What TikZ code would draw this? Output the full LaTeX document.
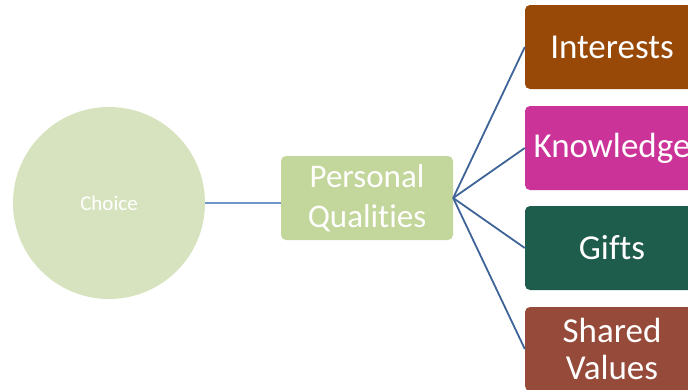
\documentclass[tikz,border=0pt]{standalone}
\usepackage{fontspec}
\setmainfont{Carlito}[Ligatures={NoCommon}]
\usepackage{tikz}
\usetikzlibrary{calc}
\definecolor{choicegreen}{RGB}{215,227,190}
\definecolor{qualgreen}{RGB}{195,214,155}
\definecolor{interestbrown}{RGB}{152,72,7}
\definecolor{knowpink}{RGB}{204,51,153}
\definecolor{giftgreen}{RGB}{30,92,76}
\definecolor{valuered}{RGB}{150,75,58}
\definecolor{linkblue}{RGB}{110,150,200}
\definecolor{branchblue}{RGB}{62,100,151}
\tikzset{
  box/.style={rounded corners=5pt, text=white, align=center, inner sep=0pt},
  leaf/.style={box, minimum width=174pt, minimum height=84pt, font=\fontsize{35}{37}\selectfont},
  branch/.style={branchblue, line width=1.8pt}
}

\begin{document}
\begin{tikzpicture}[x=1pt,y=-1pt]
    \clip (0,0) rectangle (688,389);
    \useasboundingbox (0,0) rectangle (688,389);
    % root and middle
    \node[circle, fill=choicegreen, minimum size=192pt, text=white, font=\fontsize{21}{24}\selectfont] (choice) at (109,203) {Choice};
    \node[box, fill=qualgreen, minimum width=172pt, minimum height=84pt, font=\fontsize{33}{40}\selectfont] (qual) at (367,198) {Personal\\Qualities};
    \draw[linkblue, line width=1.2pt] (choice.east) -- (choice.east -| qual.west);
    % leaves
    \node[leaf, fill=interestbrown] (interests) at (612,47) {Interests};
    \node[leaf, fill=knowpink] (knowledge) at (612,148) {Knowledge};
    \node[leaf, fill=giftgreen] (gifts) at (612,248) {Gifts};
    \node[leaf, fill=valuered] (values) at (612,349) {Shared\\Values};
    \foreach \n in {interests,knowledge,gifts,values}
      \draw[branch] (qual.east) -- (\n.west);
\end{tikzpicture}
\end{document}
